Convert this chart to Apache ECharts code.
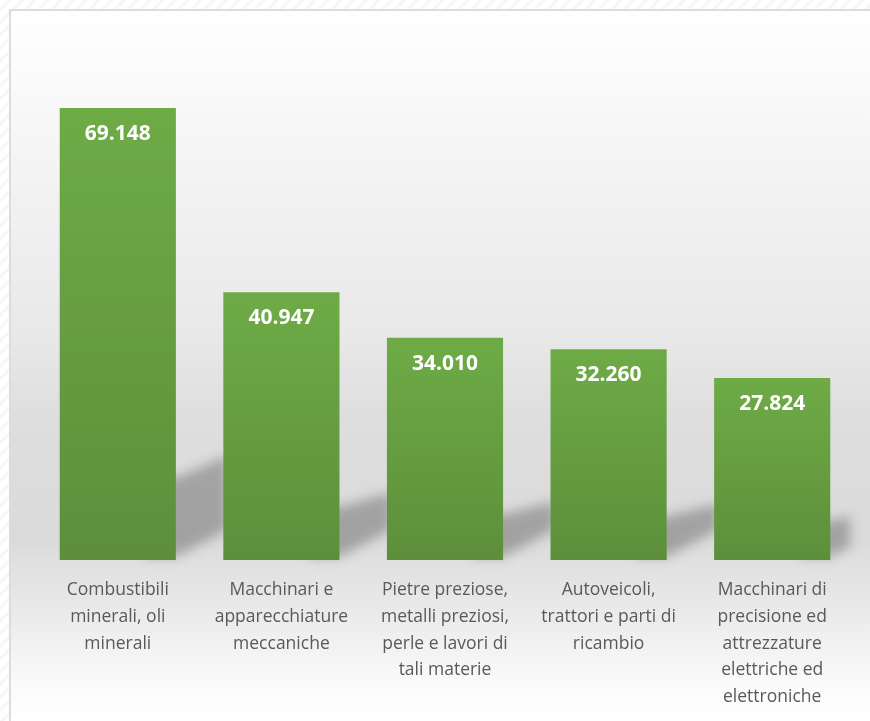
<!DOCTYPE html>
<html>
<head>
<meta charset="utf-8">
<script src="https://cdn.jsdelivr.net/npm/echarts@6/dist/echarts.min.js"></script>
<style>
  html, body { margin: 0; padding: 0; width: 870px; height: 721px; overflow: hidden; }
  body {
    background: repeating-linear-gradient(135deg, #ffffff 0px, #ffffff 5px, #f6f6f6 6px, #f6f6f6 8px, #ffffff 9px);
  }
  #panel {
    position: absolute; left: 9px; top: 9px; width: 880px; height: 730px;
    border: 2px solid #dcdcdc; box-sizing: border-box;
    background: linear-gradient(180deg, #ffffff 0%, #f5f5f5 19%, #e8e8e8 45%, #dedede 56%, #dadada 73%, #e0e0e0 76%, #ececec 84%, #fbfbfb 93%, #ffffff 98%);
  }
  #chart { position: absolute; left: 0; top: 0; width: 870px; height: 721px; }
</style>
</head>
<body>
<div id="panel"></div>
<div id="chart"></div>
<script>
const categories = [
  "Combustibili\nminerali, oli\nminerali",
  "Macchinari e\napparecchiature\nmeccaniche",
  "Pietre preziose,\nmetalli preziosi,\nperle e lavori di\ntali materie",
  "Autoveicoli,\ntrattori e parti di\nricambio",
  "Macchinari di\nprecisione ed\nattrezzature\nelettriche ed\nelettroniche"
];
const values = [69.148, 40.947, 34.010, 32.260, 27.824];

function fmt(v) { return v.toFixed(3); }

const chart = echarts.init(document.getElementById('chart'), null, { renderer: 'canvas' });

const shadowData = values.map((v, i) => [i, v]);
const OFF = 3000;

chart.setOption({
  backgroundColor: 'transparent',
  animation: false,
  grid: { left: 36, right: 16, top: 108, bottom: 161, containLabel: false },
  xAxis: {
    type: 'category',
    data: categories,
    axisLine: { show: false },
    axisTick: { show: false },
    axisLabel: {
      interval: 0,
      margin: 17,
      color: '#595959',
      fontFamily: 'Open Sans',
      fontSize: 17.5,
      lineHeight: 26.7,
      align: 'center'
    }
  },
  yAxis: {
    type: 'value',
    min: 0,
    max: 'dataMax',
    show: false,
    splitLine: { show: false }
  },
  series: [
    {
      type: 'custom',
      z: 1,
      silent: true,
      data: shadowData,
      encode: { x: 0, y: 1 },
      renderItem: function (params, api) {
        const i = api.value(0);
        const v = api.value(1);
        const base = api.coord([i, 0]);
        const top = api.coord([i, v]);
        const bw = api.size([1, 0])[0] * 0.71;
        const xR = base[0] + bw / 2;
        const b = base[1];
        const h = b - top[1];
        const right = params.coordSys.x + params.coordSys.width;
        const L = 52;
        const xe = Math.min(xR + L, right - 4);
        const f = (xe - xR) / L;
        const pts = [
          [xR - 30, b - 3],
          [xR, b - 3],
          [xe, b - 3 - 28 * f],
          [xe, b - (0.16 * h + 10) - (0.04 * h + 4) * f],
          [xR, b - (0.16 * h + 10)],
          [xR - 30, b - (0.16 * h + 10)]
        ].map(p => [p[0] - OFF, p[1]]);
        return {
          type: 'polygon',
          shape: { points: pts },
          style: {
            fill: '#000',
            shadowBlur: 12,
            shadowOffsetX: OFF,
            shadowColor: 'rgba(0,0,0,0.26)'
          }
        };
      }
    },
    {
      type: 'bar',
      z: 2,
      data: values,
      barWidth: '71%',
      itemStyle: {
        color: new echarts.graphic.LinearGradient(0, 0, 0, 1, [
          { offset: 0, color: '#6eab46' },
          { offset: 1, color: '#5d8f3b' }
        ])
      },
      label: {
        show: true,
        position: 'insideTop',
        distance: 15,
        color: '#ffffff',
        fontFamily: 'Open Sans',
        fontWeight: 'bold',
        fontSize: 21,
        lineHeight: 22,
        formatter: (p) => fmt(p.value)
      }
    }
  ]
});
</script>
</body>
</html>
